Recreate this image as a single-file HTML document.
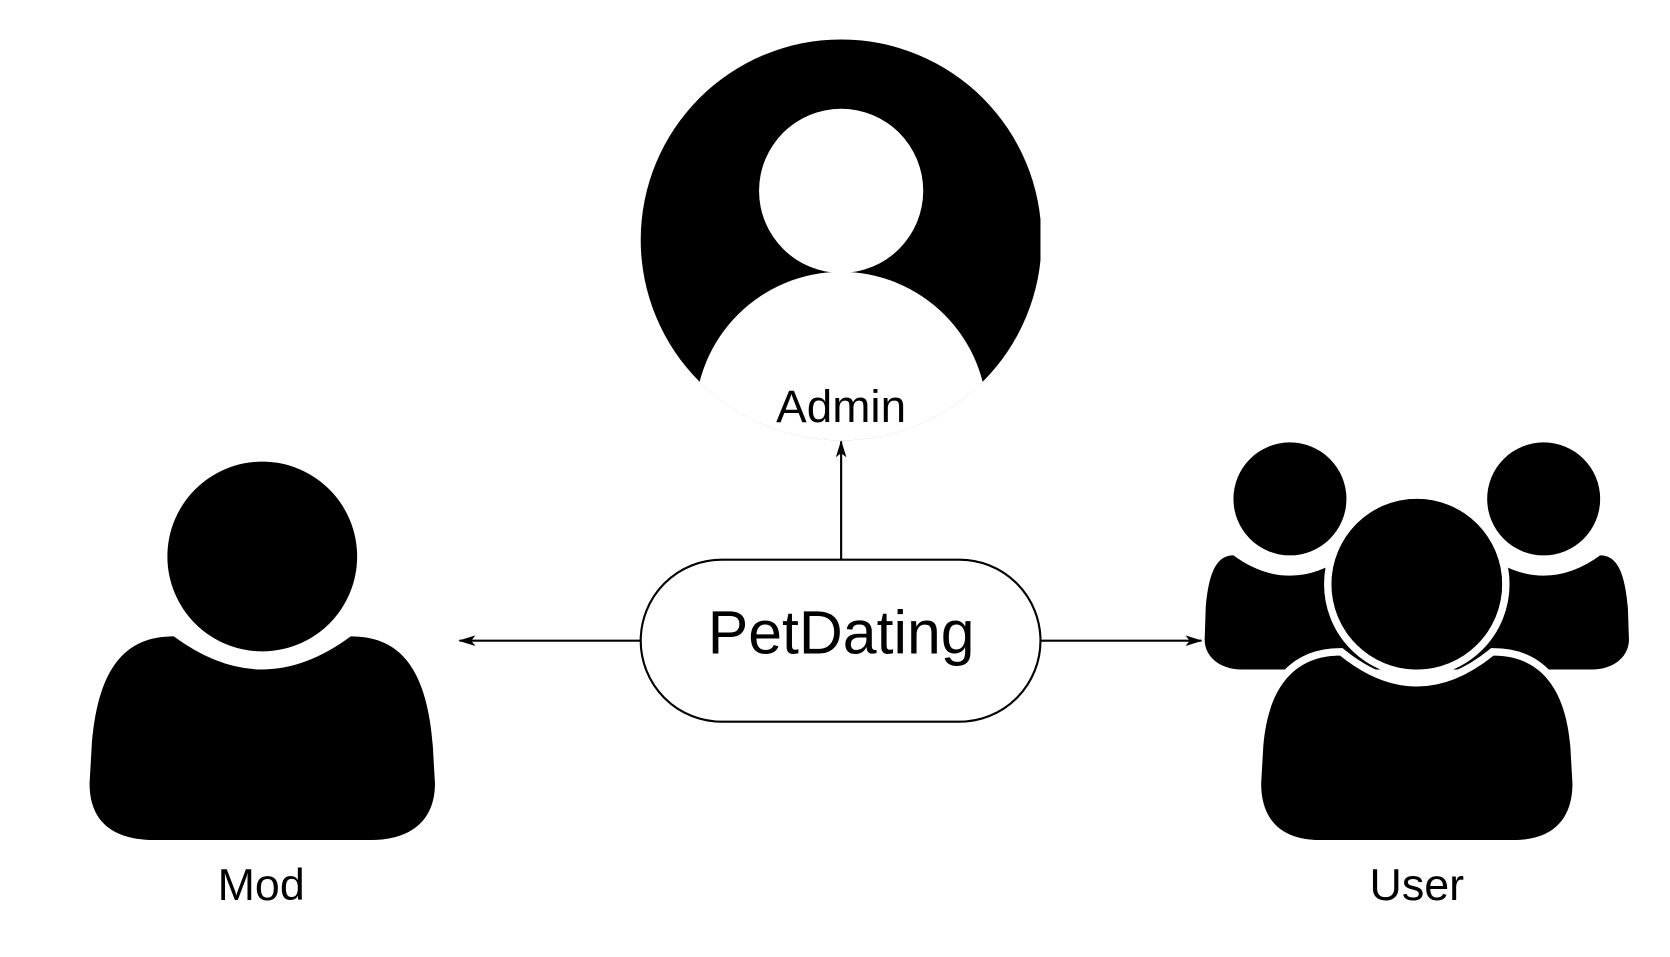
<!DOCTYPE html>
<html><head><style>html,body{margin:0;padding:0;background:#fff;}svg{display:block}</style></head>
<body>
<svg width="1670" height="957" viewBox="0 0 1566.5 897.7" xmlns="http://www.w3.org/2000/svg">
<defs>
<clipPath id="cc"><circle cx="789" cy="225" r="188"/></clipPath>
<marker id="ah" markerWidth="16" markerHeight="10" refX="15" refY="5" orient="auto" markerUnits="userSpaceOnUse"><path d="M0,0 L16,5 L0,10 L4,5 Z" fill="#000"/></marker>
</defs>
<g clip-path="url(#cc)">
<rect x="600" y="36" width="376" height="380" fill="#000"/>
<circle cx="789" cy="179" r="77" fill="#fff"/>
<circle cx="789" cy="392" r="137" fill="#fff"/>
<rect x="640" y="358" width="300" height="60" fill="#fff"/>
</g>
<text x="789" y="396" font-family="Liberation Sans, sans-serif" font-size="43" text-anchor="middle">Admin</text>
<line x1="789" y1="525" x2="789" y2="414" stroke="#000" stroke-width="2" marker-end="url(#ah)"/>
<rect x="601" y="525" width="375" height="152" rx="76" fill="#fff" stroke="#000" stroke-width="2"/>
<text x="789" y="613" font-family="Liberation Sans, sans-serif" font-size="57" text-anchor="middle">PetDating</text>
<line x1="601" y1="601" x2="431" y2="601" stroke="#000" stroke-width="2" marker-end="url(#ah)"/>
<line x1="976" y1="601" x2="1127" y2="601" stroke="#000" stroke-width="2" marker-end="url(#ah)"/>
<circle cx="246" cy="522" r="89" fill="#000"/>
<path d="M163,597 Q205,628 246,628 Q287,628 329,597 C370,597 400,620 406,700 L408,735 C408,770 385,788 348,788 L145,788 C105,788 84,770 84,735 L86,700 C92,620 122,597 163,597 Z" fill="#000"/>
<text x="245" y="844" font-family="Liberation Sans, sans-serif" font-size="42" text-anchor="middle">Mod</text>
<circle cx="1210" cy="468" r="53" fill="#000"/>
<circle cx="1448" cy="468" r="53" fill="#000"/>
<path d="M1157,521 Q1183,540 1210,540 Q1237,540 1263,521 L1300,521 L1300,628 L1165,628 C1143,628 1130,615 1130,600 L1131,570 C1134,535 1142,521 1157,521 Z" fill="#000"/>
<path d="M1157,521 Q1183,540 1210,540 Q1237,540 1263,521 L1300,521 L1300,628 L1165,628 C1143,628 1130,615 1130,600 L1131,570 C1134,535 1142,521 1157,521 Z" fill="#000" transform="translate(2658,0) scale(-1,1)"/>
<circle cx="1329" cy="548" r="80" fill="#000" stroke="#fff" stroke-width="14" paint-order="stroke"/>
<path d="M1257,615 Q1293,644 1329,644 Q1365,644 1401,615 C1440,615 1468,640 1473,700 L1475,735 C1475,770 1455,788 1420,788 L1238,788 C1203,788 1183,770 1183,735 L1185,700 C1190,640 1218,615 1257,615 Z" fill="#000" stroke="#fff" stroke-width="14" paint-order="stroke"/>
<circle cx="1329" cy="548" r="80" fill="#000"/>
<text x="1329" y="844" font-family="Liberation Sans, sans-serif" font-size="42" text-anchor="middle">User</text>
</svg>
</body></html>
